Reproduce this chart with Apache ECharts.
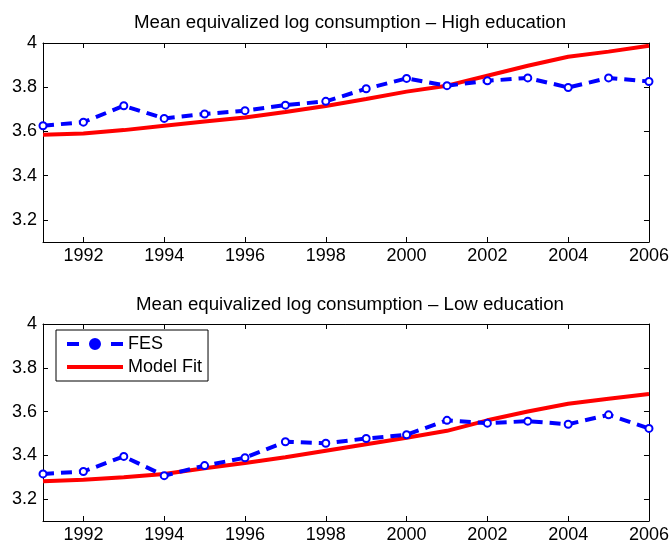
<!DOCTYPE html>
<html><head><meta charset="utf-8">
<script src="https://cdn.jsdelivr.net/npm/echarts@6/dist/echarts.min.js"></script>
<style>html,body{margin:0;padding:0;background:#fff}#c{width:672px;height:545px}</style>
</head><body><div id="c"></div>
<script>
const years = [1991,1992,1993,1994,1995,1996,1997,1998,1999,2000,2001,2002,2003,2004,2005,2006];
const highFES   = [3.626,3.642,3.716,3.659,3.679,3.694,3.719,3.736,3.793,3.840,3.807,3.829,3.842,3.799,3.842,3.826];
const highModel = [3.585,3.591,3.606,3.626,3.645,3.663,3.688,3.715,3.747,3.780,3.807,3.852,3.897,3.938,3.961,3.988];
const lowFES    = [3.315,3.326,3.395,3.307,3.353,3.389,3.462,3.455,3.477,3.494,3.560,3.547,3.556,3.542,3.585,3.523];
const lowModel  = [3.282,3.289,3.300,3.315,3.341,3.365,3.391,3.421,3.451,3.480,3.512,3.560,3.600,3.636,3.659,3.680];
const xTicks = [1992,1994,1996,1998,2000,2002,2004,2006];
const yTicks = [3.2,3.4,3.6,3.8,4];
const titles = ['Mean equivalized log consumption \u2013 High education','Mean equivalized log consumption \u2013 Low education'];

const FONT = 'Liberation Sans, Arial, sans-serif';
const FS = 18;
const grids = [
  {left:43, top:43, width:608, height:199},
  {left:43, top:324, width:608, height:197}
];
function xAx(gi, pos, labels){
  return {type:'value', gridIndex:gi, position:pos, min:1991, max:2006,
    axisLine:{show:true, onZero:false, lineStyle:{color:'#000', width:1}},
    axisTick:{show:true, inside:true, length:5, customValues:xTicks, lineStyle:{color:'#000'}},
    axisLabel:{show:labels, customValues:xTicks, color:'#000', fontSize:FS, fontFamily:FONT, margin:5,
      formatter:v=>String(v)},
    splitLine:{show:false}};
}
function yAx(gi, pos, labels){
  return {type:'value', gridIndex:gi, position:pos, min:3.1, max:4,
    axisLine:{show:true, onZero:false, lineStyle:{color:'#000', width:1}},
    axisTick:{show:true, inside:true, length:5, customValues:yTicks, lineStyle:{color:'#000'}},
    axisLabel:{show:labels, customValues:yTicks, color:'#000', fontSize:FS, fontFamily:FONT, margin:6,
      formatter:v=>String(Math.round(v*10)/10)},
    splitLine:{show:false}};
}
function pairs(arr){ return years.map((y,i)=>[y,arr[i]]); }
function fesSeries(gi, arr){
  return {name:'FES', type:'line', xAxisIndex:gi*2, yAxisIndex:gi*2, data:pairs(arr),
    lineStyle:{color:'#0000ff', width:4, type:[11,7]},
    symbol:'emptyCircle', symbolSize:7, itemStyle:{color:'#0000ff', borderColor:'#0000ff', borderWidth:4},
    z:3, animation:false};
}
function modelSeries(gi, arr){
  return {name:'Model Fit', type:'line', xAxisIndex:gi*2, yAxisIndex:gi*2, data:pairs(arr),
    lineStyle:{color:'#ff0000', width:4}, symbol:'none', itemStyle:{color:'#ff0000'}, z:2, animation:false};
}
const fesIcon = 'path://M0,4h12v4h-12z M22,6a6,6 0 1,0 12,0a6,6 0 1,0 -12,0z M44,4h12v4h-12z';
const fitIcon = 'path://M0,4h56v4h-56z M0,0h0.01v12h-0.01z';
const chart = echarts.init(document.getElementById('c'), null, {renderer:'canvas'});
chart.setOption({
  backgroundColor:'#fff',
  animation:false,
  title:[
    {text:titles[0], left:345, textAlign:'center', top:8, textStyle:{fontSize:18.7, fontWeight:'normal', color:'#000', fontFamily:FONT}},
    {text:titles[1], left:345, textAlign:'center', top:290, textStyle:{fontSize:18.7, fontWeight:'normal', color:'#000', fontFamily:FONT}}
  ],
  legend:{show:true, left:56, top:330, orient:'vertical', itemWidth:56, itemHeight:12, itemGap:5,
    padding:[5,6,5,11], borderColor:'#000', borderWidth:1, backgroundColor:'#fff',
    textStyle:{fontSize:FS, color:'#000', fontFamily:FONT},
    data:[
      {name:'FES', icon:fesIcon, itemStyle:{color:'#0000ff', borderWidth:0}},
      {name:'Model Fit', icon:fitIcon, itemStyle:{color:'#ff0000', borderWidth:0}}
    ]},
  grid:grids,
  xAxis:[xAx(0,'bottom',true), xAx(0,'top',false), xAx(1,'bottom',true), xAx(1,'top',false)],
  yAxis:[yAx(0,'left',true), yAx(0,'right',false), yAx(1,'left',true), yAx(1,'right',false)],
  series:[fesSeries(0, highFES), modelSeries(0, highModel), fesSeries(1, lowFES), modelSeries(1, lowModel)]
});
</script></body></html>
